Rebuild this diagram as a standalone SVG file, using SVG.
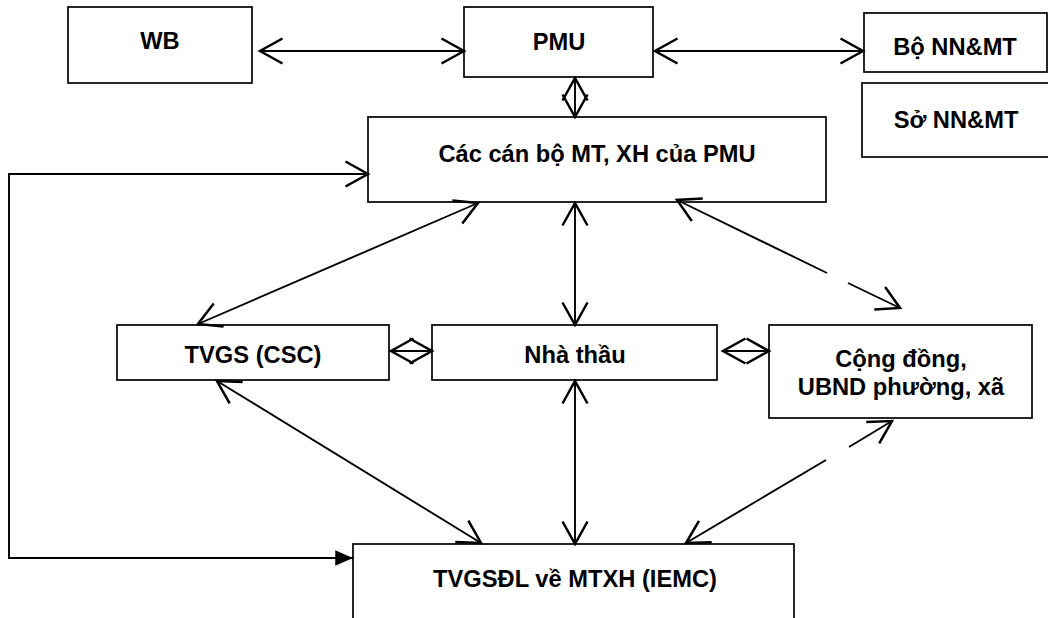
<svg xmlns="http://www.w3.org/2000/svg" width="1048" height="618" viewBox="0 0 1048 618">
<style>
.box{fill:#fff;stroke:#000;stroke-width:1.7}
.lbl{font-family:"Liberation Sans",Arial,sans-serif;font-weight:bold;font-size:23.7px;fill:#000;text-anchor:middle}
.c{fill:none;stroke:#000;stroke-width:1.9}
</style>
<defs>
<marker id="open" markerUnits="userSpaceOnUse" markerWidth="30" markerHeight="30" viewBox="-20 -12 24 24" refX="0" refY="0" orient="auto-start-reverse">
<path d="M-18,-10 L0,0 L-18,10" fill="none" stroke="#000" stroke-width="2"/>
</marker>
<marker id="solid" markerUnits="userSpaceOnUse" markerWidth="20" markerHeight="20" viewBox="-17 -8 18 16" refX="0" refY="0" orient="auto">
<path d="M-16,-7 L0,0 L-16,7 Z" fill="#000"/>
</marker>
</defs>
<rect width="1048" height="618" fill="#fff"/>
<g id="wb"><rect class="box" x="68" y="7" width="184" height="76"/><text class="lbl" x="160" y="49">WB</text></g>
<g id="pmu"><rect class="box" x="464" y="7" width="189" height="70"/><text class="lbl" x="559" y="50">PMU</text></g>
<g id="bo"><rect class="box" x="864" y="13" width="183" height="59"/><text class="lbl" x="955" y="55">Bộ NN&amp;MT</text></g>
<g id="so"><rect class="box" x="862" y="83" width="200" height="74"/><text class="lbl" x="956" y="128">Sở NN&amp;MT</text></g>
<g id="canbo"><rect class="box" x="368" y="117" width="458" height="85"/><text class="lbl" x="597" y="162">Các cán bộ MT, XH của PMU</text></g>
<g id="tvgs"><rect class="box" x="117" y="325" width="272" height="55"/><text class="lbl" x="253" y="363">TVGS (CSC)</text></g>
<g id="nhathau"><rect class="box" x="432" y="325" width="285" height="55"/><text class="lbl" x="575" y="363">Nhà thầu</text></g>
<g id="congdong"><rect class="box" x="769" y="325" width="263" height="93"/><text class="lbl" x="901" y="367">Cộng đồng,</text><text class="lbl" x="901" y="395">UBND phường, xã</text></g>
<g id="iemc"><rect class="box" x="353" y="544" width="441" height="100"/><text class="lbl" x="575" y="587">TVGSĐL về MTXH (IEMC)</text></g>
<g id="connectors">
<path class="c" d="M260,51 L464,51" marker-start="url(#open)" marker-end="url(#open)"/>
<path class="c" d="M655,51 L863,51" marker-start="url(#open)" marker-end="url(#open)"/>
<path class="c" d="M575,78 L575,117" marker-start="url(#open)" marker-end="url(#open)"/>
<path class="c" d="M368,174 L9,174 L9,558 L353,558" stroke-width="2.2" marker-start="url(#open)" marker-end="url(#solid)"/>
<path class="c" d="M478,203 L198,324" marker-start="url(#open)" marker-end="url(#open)"/>
<path class="c" d="M575,203 L575,325" marker-start="url(#open)" marker-end="url(#open)"/>
<path class="c" d="M677,200 L827,273 M848,283 L900,308" marker-start="url(#open)" marker-end="url(#open)"/>
<path class="c" d="M391,351 L432,351" marker-start="url(#open)" marker-end="url(#open)"/>
<path class="c" d="M723,351 L769,351" marker-start="url(#open)" marker-end="url(#open)"/>
<path class="c" d="M217,381 L481,543" marker-start="url(#open)" marker-end="url(#open)"/>
<path class="c" d="M575,381 L575,544" marker-start="url(#open)" marker-end="url(#open)"/>
<path class="c" d="M892,421 L849,447 M826,460 L686,543" marker-start="url(#open)" marker-end="url(#open)"/>
</g>
</svg>
